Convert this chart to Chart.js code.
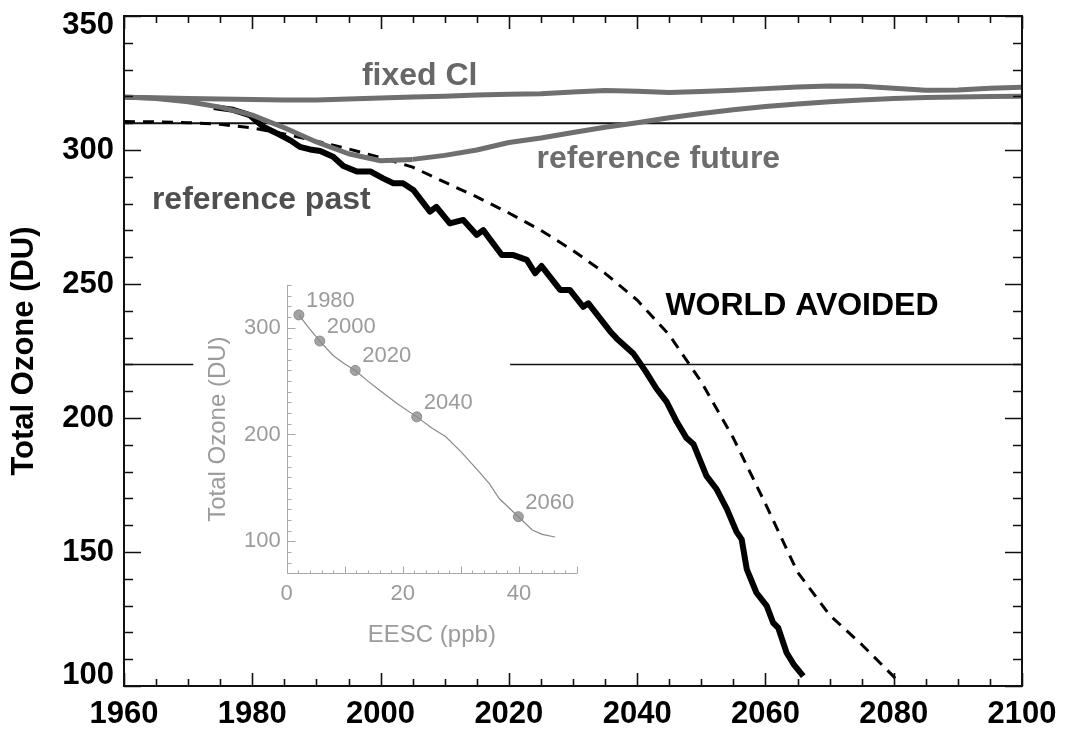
<!DOCTYPE html>
<html>
<head>
<meta charset="utf-8">
<title>Total ozone, world avoided</title>
<script src="https://cdn.jsdelivr.net/npm/chart.js@4.4.1/dist/chart.umd.min.js"></script>
<style>
  html, body { margin: 0; padding: 0; background: #fff; }
  #wrap { position: relative; width: 1080px; height: 732px; overflow: hidden; }
  #main { position: absolute; left: 0; top: 0; }
  #inset { position: absolute; left: 190px; top: 270px; }
</style>
</head>
<body>
<div id="wrap">
  <canvas id="main" width="1080" height="732"></canvas>
  <canvas id="inset" width="410" height="380"></canvas>
</div>
<script>
/* global Chart */

// ---- main panel data (year, total ozone in DU) ----
const years5 = [1960, 1965, 1970, 1975, 1980, 1985, 1990, 1995, 2000, 2005,
  2010, 2015, 2020, 2025, 2030, 2035, 2040, 2045, 2050, 2055,
  2060, 2065, 2070, 2075, 2080, 2085, 2090, 2095, 2100];

const fixedCl = [319.7, 319.5, 319.2, 319.0, 318.8, 318.7, 318.7, 319.0, 319.4, 319.8,
  320.1, 320.5, 320.8, 321.0, 321.6, 322.2, 321.9, 321.5, 321.8, 322.3,
  322.9, 323.5, 323.9, 323.8, 323.0, 322.3, 322.4, 323.0, 323.4];

const reference = [319.8, 319.2, 318.0, 316.0, 313.0, 308.3, 303.0, 298.6, 296.0, 296.5,
  298.0, 300.0, 302.8, 304.5, 306.5, 308.5, 310.2, 312.0, 313.6, 315.0,
  316.2, 317.2, 318.0, 318.7, 319.2, 319.6, 319.8, 320.0, 320.1];
const pastEndYear = 2005;

const fitYears = [1960, 1965, 1970, 1975, 1980, 1985, 1990, 1995, 2000, 2005,
  2010, 2015, 2020, 2025, 2030, 2035, 2040, 2045, 2050, 2055,
  2060, 2065, 2070, 2075, 2080, 2081];
const fitO3 = [310.6, 310.5, 310.2, 309.6, 308.2, 306.0, 303.3, 300.4, 297.2, 293.6,
  288.0, 282.5, 276.5, 270.0, 262.5, 254.0, 244.0, 231.0, 213.5, 192.5,
  168.0, 142.5, 126.5, 115.5, 103.5, 100.5];

const avoidedYears = [1974, 1977, 1979.6, 1981.7, 1984, 1986, 1987.4, 1989, 1990.6, 1992.6,
  1994.2, 1996.3, 1998.4, 2000.4, 2002, 2003.5, 2005.1, 2007.7, 2008.7, 2010.8,
  2012.9, 2015, 2016, 2018.9, 2020.7, 2022.8, 2024.1, 2025.1, 2028, 2029.5,
  2031.6, 2032.4, 2035.8, 2036.8, 2039.4, 2041.3, 2043, 2044.6, 2046.2, 2047.7,
  2048.8, 2050.8, 2052.4, 2054, 2055.5, 2056.3, 2057.1, 2058.6, 2060.2, 2061.2,
  2062, 2063.3, 2064.4, 2065.9];
const avoidedO3 = [316.0, 315.0, 313.0, 308.7, 306.0, 303.5, 301.2, 300.2, 299.6, 297.5,
  294.0, 292.0, 292.0, 289.4, 287.6, 287.6, 285.1, 277.0, 278.8, 272.6,
  273.9, 268.3, 270.1, 260.8, 260.8, 259.0, 254.0, 256.7, 247.8, 247.8,
  241.5, 242.8, 232.3, 229.7, 224.1, 217.5, 211.0, 206.0, 198.5, 192.5,
  190.2, 178.4, 173.4, 166.0, 157.5, 154.7, 143.5, 134.8, 129.9, 123.6,
  121.7, 112.4, 108.1, 103.7];

// horizontal guide levels; the 220 line is broken where the inset sits
const level310Years = [1960, 2100];
const level310 = [310, 310];
const level220Years = [1960, 1970.8, 1995, 2020.2, 2100];
const level220 = [220, 220, null, 220, 220];

// ---- inset data (EESC in ppb vs total ozone in DU) ----
const eesc = [2.1, 3.5, 5.7, 8.0, 10.0, 11.8, 14.0, 16.0, 19.0, 22.4,
  25.0, 27.4, 30.0, 33.0, 34.9, 36.6, 39.9, 42.3, 44.0, 46.2];
const eescO3 = [312, 302, 287.5, 274, 266, 260, 250, 241.4, 229, 216.5,
  206, 197.8, 184, 166, 154, 140, 123, 110.6, 106.5, 104];
const markYears = ["1980", "2000", "2020", "2040", "2060"];
const markEesc = [2.1, 5.7, 11.8, 22.4, 39.9];
const markO3 = [312, 287.5, 260, 216.5, 123];

const FONT = "'Liberation Sans', Arial, Helvetica, sans-serif";
Chart.defaults.font.family = FONT;

function pts(xs, ys) {
  return xs.map(function (x, i) { return { x: x, y: ys[i] }; });
}

const pastIdx = years5.indexOf(pastEndYear);
const GREY = "#6f6f6f";

const notes = [
  { text: "fixed Cl", x: 2006.1, y: 327.5, color: "#676767" },
  { text: "reference past", x: 1981.4, y: 281.3, color: "#4f4f4f" },
  { text: "reference future", x: 2043.3, y: 296.5, color: "#6d6d6d" },
  { text: "WORLD AVOIDED", x: 2065.7, y: 241.6, color: "#000" },
];

const mainFrame = {
  id: "mainFrame",
  afterDatasetsDraw(chart) {
    const ctx = chart.ctx;
    const a = chart.chartArea;
    const x = chart.scales.x;
    const y = chart.scales.y;
    ctx.save();
    ctx.strokeStyle = "#111";
    ctx.lineWidth = 2;
    ctx.strokeRect(a.left, a.top, a.right - a.left, a.bottom - a.top);
    ctx.lineWidth = 1.6;
    ctx.beginPath();
    for (let v = x.min; v <= x.max; v += 5) {
      const px = Math.round(x.getPixelForValue(v)) + 0.5;
      const len = v % 20 === 0 ? 13 : 7;
      ctx.moveTo(px, a.bottom); ctx.lineTo(px, a.bottom - len);
      ctx.moveTo(px, a.top); ctx.lineTo(px, a.top + len);
    }
    for (let v = y.min; v <= y.max; v += 10) {
      const py = Math.round(y.getPixelForValue(v)) + 0.5;
      const len = v % 50 === 0 ? 17 : 9;
      ctx.moveTo(a.left, py); ctx.lineTo(a.left + len, py);
      ctx.moveTo(a.right, py); ctx.lineTo(a.right - len, py);
    }
    ctx.stroke();

    ctx.font = "bold 32px " + FONT;
    ctx.textAlign = "center";
    ctx.textBaseline = "middle";
    notes.forEach(function (n) {
      ctx.fillStyle = n.color;
      ctx.fillText(n.text, x.getPixelForValue(n.x), y.getPixelForValue(n.y));
    });
    ctx.restore();
  },
};

const tickFont = { size: 31, weight: "bold" };

new Chart(document.getElementById("main"), {
  type: "line",
  data: {
    datasets: [
      { label: "fixed Cl", data: pts(years5, fixedCl), borderColor: GREY, borderWidth: 5, order: 0 },
      { label: "reference past", data: pts(years5.slice(0, pastIdx + 1), reference.slice(0, pastIdx + 1)), borderColor: GREY, borderWidth: 5, order: 0 },
      { label: "reference future", data: pts(years5.slice(pastIdx), reference.slice(pastIdx)), borderColor: GREY, borderWidth: 5, order: 0 },
      { label: "world avoided", data: pts(avoidedYears, avoidedO3), borderColor: "#000", borderWidth: 6, order: 1 },
      { label: "world avoided fit", data: pts(fitYears, fitO3), borderColor: "#000", borderWidth: 3, borderDash: [11, 8], order: 2 },
      { label: "310", data: pts(level310Years, level310), borderColor: "#111", borderWidth: 2, order: 3 },
      { label: "220", data: pts(level220Years, level220), borderColor: "#111", borderWidth: 1.5, spanGaps: false, order: 3 },
    ],
  },
  options: {
    responsive: false,
    animation: false,
    events: [],
    layout: { padding: { left: 0, right: 58, top: 16, bottom: 0 } },
    elements: {
      point: { radius: 0 },
      line: { tension: 0, fill: false, borderJoinStyle: "round", borderCapStyle: "butt" },
    },
    plugins: { legend: { display: false }, tooltip: { enabled: false } },
    scales: {
      x: {
        type: "linear",
        min: 1960,
        max: 2100,
        grid: { display: false, drawTicks: false },
        border: { display: false },
        ticks: {
          stepSize: 20,
          padding: 10,
          maxRotation: 0,
          color: "#000",
          font: tickFont,
          callback: function (v) { return String(v); },
        },
        afterFit: function (s) { s.height = 46; s.paddingLeft = 0; s.paddingRight = 0; },
      },
      y: {
        type: "linear",
        min: 100,
        max: 350,
        grid: { display: false, drawTicks: false },
        border: { display: false },
        ticks: {
          stepSize: 50,
          padding: 10,
          color: "#000",
          // end labels sit just inside the frame, as in the original plot
          font: function (c) {
            const v = c.tick && c.tick.value;
            if (v === 350) return { size: 31, weight: "bold", lineHeight: "18px" };
            if (v === 100) return { size: 31, weight: "bold", lineHeight: "22px" };
            return tickFont;
          },
          callback: function (v) {
            if (v === 350) return ["", "350"];
            if (v === 100) return ["100", ""];
            return String(v);
          },
        },
        title: {
          display: true,
          text: "Total Ozone (DU)",
          color: "#000",
          font: { size: 31, weight: "bold" },
          padding: { top: 6, bottom: 0 },
        },
        afterFit: function (s) { s.width = 124; s.paddingTop = 0; s.paddingBottom = 0; },
      },
    },
  },
  plugins: [mainFrame],
});

// ---- inset ----
const INSET_GREY = "#9b9b9b";

const insetAxes = {
  id: "insetAxes",
  afterDatasetsDraw(chart) {
    const ctx = chart.ctx;
    const a = chart.chartArea;
    const x = chart.scales.x;
    const y = chart.scales.y;
    ctx.save();
    ctx.strokeStyle = "#a8a8a8";
    ctx.lineWidth = 1;
    ctx.beginPath();
    const l = Math.round(a.left) + 0.5;
    const b = Math.round(a.bottom) + 0.5;
    ctx.moveTo(l, a.top); ctx.lineTo(l, b); ctx.lineTo(a.right, b);
    for (let v = x.min; v <= x.max; v += 2) {
      const px = Math.round(x.getPixelForValue(v)) + 0.5;
      const len = v % 10 === 0 ? 7 : 3;
      ctx.moveTo(px, b); ctx.lineTo(px, b - len);
    }
    for (let v = y.min; v <= y.max; v += 10) {
      const py = Math.round(y.getPixelForValue(v)) + 0.5;
      const len = v % 100 === 0 ? 8 : 4;
      ctx.moveTo(l, py); ctx.lineTo(l + len, py);
    }
    ctx.stroke();

    // year labels beside the marked points
    const meta = chart.getDatasetMeta(1);
    ctx.font = "22px " + FONT;
    ctx.fillStyle = INSET_GREY;
    ctx.textAlign = "left";
    ctx.textBaseline = "middle";
    meta.data.forEach(function (p, i) {
      ctx.fillText(markYears[i], p.x + 7, p.y - 14);
    });
    ctx.restore();
  },
};

new Chart(document.getElementById("inset"), {
  type: "line",
  data: {
    datasets: [
      { label: "ozone vs EESC", data: pts(eesc, eescO3), borderColor: "#8a8a8a", borderWidth: 1.2, pointRadius: 0 },
      { label: "years", data: pts(markEesc, markO3), showLine: false, pointRadius: 5, pointBackgroundColor: "#a3a3a3", pointBorderColor: "#8c8c8c", pointBorderWidth: 1 },
    ],
  },
  options: {
    responsive: false,
    animation: false,
    events: [],
    layout: { padding: { left: 0, right: 23, top: 15, bottom: 0 } },
    plugins: { legend: { display: false }, tooltip: { enabled: false } },
    scales: {
      x: {
        type: "linear",
        min: 0,
        max: 50,
        grid: { display: false, drawTicks: false },
        border: { display: false },
        ticks: {
          stepSize: 20,
          padding: 7,
          maxRotation: 0,
          color: INSET_GREY,
          font: { size: 22 },
          callback: function (v) { return v % 20 === 0 ? String(v) : ""; },
        },
        title: { display: true, text: "EESC (ppb)", color: INSET_GREY, font: { size: 24 }, padding: { top: 2, bottom: 0 } },
        afterFit: function (s) { s.height = 76.7; s.paddingLeft = 0; s.paddingRight = 0; },
      },
      y: {
        type: "linear",
        min: 70,
        max: 340,
        grid: { display: false, drawTicks: false },
        border: { display: false },
        ticks: {
          stepSize: 100,
          padding: 6,
          color: INSET_GREY,
          font: { size: 22 },
          callback: function (v) { return v % 100 === 0 ? String(v) : ""; },
        },
        title: { display: true, text: "Total Ozone (DU)", color: INSET_GREY, font: { size: 24 }, padding: { top: 14, bottom: 0 } },
        afterFit: function (s) { s.width = 96.7; s.paddingTop = 0; s.paddingBottom = 0; },
      },
    },
  },
  plugins: [insetAxes],
});
</script>
</body>
</html>
